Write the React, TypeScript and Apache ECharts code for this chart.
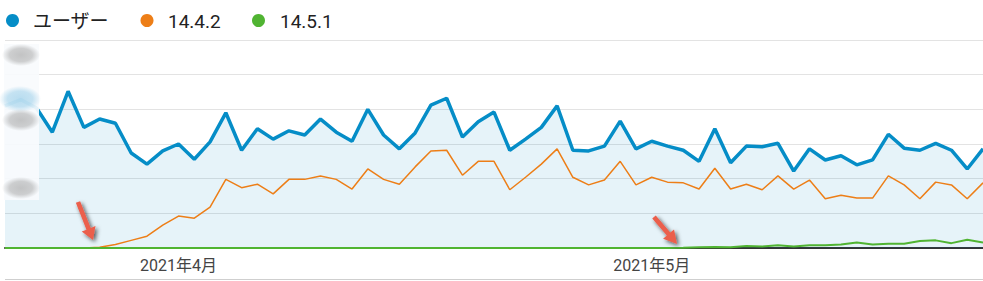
import React, { useEffect, useRef } from "react";
import * as echarts from "echarts";

const dates = [
  "2021-03-21", "2021-03-22", "2021-03-23", "2021-03-24", "2021-03-25", "2021-03-26", "2021-03-27",
  "2021-03-28", "2021-03-29", "2021-03-30", "2021-03-31",
  "2021-04-01", "2021-04-02", "2021-04-03", "2021-04-04", "2021-04-05", "2021-04-06", "2021-04-07",
  "2021-04-08", "2021-04-09", "2021-04-10", "2021-04-11", "2021-04-12", "2021-04-13", "2021-04-14",
  "2021-04-15", "2021-04-16", "2021-04-17", "2021-04-18", "2021-04-19", "2021-04-20", "2021-04-21",
  "2021-04-22", "2021-04-23", "2021-04-24", "2021-04-25", "2021-04-26", "2021-04-27", "2021-04-28",
  "2021-04-29", "2021-04-30",
  "2021-05-01", "2021-05-02", "2021-05-03", "2021-05-04", "2021-05-05", "2021-05-06", "2021-05-07",
  "2021-05-08", "2021-05-09", "2021-05-10", "2021-05-11", "2021-05-12", "2021-05-13", "2021-05-14",
  "2021-05-15", "2021-05-16", "2021-05-17", "2021-05-18", "2021-05-19", "2021-05-20", "2021-05-21",
  "2021-05-22",
];

const monthLabels: Record<string, string> = {
  "2021-04-01": "2021年4月",
  "2021-05-01": "2021年5月",
};

const seriesNames = ["ユーザー", "14.4.2", "14.5.1"];
const seriesColors = ["#058DC7", "#ED7E17", "#50B432"];

const users = [
  205, 214, 202, 167, 226, 174, 186, 180, 137, 121, 140,
  150, 128, 153, 195, 141, 172, 157, 169, 163, 186, 167, 154, 200, 163, 143, 166, 206, 216, 160,
  182, 196, 141, 157, 174, 205, 141, 140, 147, 183, 143,
  154, 147, 141, 125, 172, 123, 147, 146, 151, 111, 143, 127, 133, 120, 127, 164, 144, 141, 151,
  141, 114, 143,
];

const v1442 = [
  0, 0, 0, 0, 0, 0, 1, 5, 11, 17, 33,
  46, 43, 59, 99, 87, 92, 78, 99, 99, 104, 99, 85, 114, 99, 92, 117, 140, 141, 105,
  125, 125, 84, 102, 121, 143, 102, 91, 98, 125, 91,
  102, 95, 94, 85, 115, 85, 92, 84, 104, 85, 98, 71, 76, 72, 72, 104, 91, 71, 95,
  91, 71, 94,
];

const v1451 = [
  0, 0, 0, 0, 0, 0, 0, 0, 0, 0, 0,
  0, 0, 0, 0, 0, 0, 0, 0, 0, 0, 0, 0, 0, 0, 0, 0, 0, 0, 0,
  0, 0, 0, 0, 0, 0, 0, 0, 0, 0, 0,
  0, 0, 0.3, 1, 1.4, 1, 3, 2, 4, 2, 4, 4, 5, 8, 5, 6, 6, 10, 11,
  7, 12, 8,
];

const FONT = "Roboto, 'Noto Sans CJK JP', sans-serif";

function arrowPoints(tail: number[], tip: number[], shaftHalf: number, headLen: number, headHalf: number) {
  const dx = tip[0] - tail[0];
  const dy = tip[1] - tail[1];
  const len = Math.sqrt(dx * dx + dy * dy);
  const ux = dx / len, uy = dy / len;
  const nx = -uy, ny = ux;
  const bx = tip[0] - ux * headLen, by = tip[1] - uy * headLen;
  return [
    [tail[0] + nx * shaftHalf, tail[1] + ny * shaftHalf],
    [bx + nx * shaftHalf, by + ny * shaftHalf],
    [bx + nx * headHalf, by + ny * headHalf],
    [tip[0], tip[1]],
    [bx - nx * headHalf, by - ny * headHalf],
    [bx - nx * shaftHalf, by - ny * shaftHalf],
    [tail[0] - nx * shaftHalf, tail[1] - ny * shaftHalf],
  ];
}

function blurSpot(cx: number, cy: number, w: number, h: number, color: string, alpha: number) {
  return {
    type: "rect",
    shape: { x: cx - w / 2, y: cy - h / 2, width: w, height: h },
    style: {
      fill: new echarts.graphic.RadialGradient(0.5, 0.5, 0.5, [
        { offset: 0, color: `rgba(${color},${alpha})` },
        { offset: 0.6, color: `rgba(${color},${alpha * 0.8})` },
        { offset: 1, color: `rgba(${color},0)` },
      ]),
    },
    z: 101,
  };
}

export default function App() {
  const ref = useRef<HTMLDivElement>(null);

  useEffect(() => {
    if (!ref.current) return;
    const chart = echarts.init(ref.current, null, { renderer: "svg" });

    const legendX = [12.5, 147, 258.5];
    const legendTextX = [33, 168, 280];
    const legendGraphics: any[] = [];
    seriesNames.forEach((name, i) => {
      legendGraphics.push({
        type: "circle",
        shape: { cx: legendX[i], cy: 20.5, r: 6.5 },
        style: { fill: seriesColors[i] },
        z: 100,
      });
      legendGraphics.push({
        type: "text",
        x: legendTextX[i],
        y: 21.5,
        style: {
          text: name,
          fill: "#222",
          font: `19px ${FONT}`,
          verticalAlign: "middle",
        },
        z: 100,
      });
    });

    const arrowStyle = {
      fill: "#EB5E4C",
      shadowColor: "rgba(0,0,0,0.65)",
      shadowBlur: 4,
      shadowOffsetX: 2,
      shadowOffsetY: 2,
    };

    const option: any = {
      animation: false,
      grid: { left: 5, right: 0, top: 40, bottom: 33, containLabel: false },
      xAxis: {
        type: "category",
        data: dates,
        boundaryGap: false,
        axisLine: { show: true, lineStyle: { color: "#333", width: 2 } },
        axisTick: { show: false },
        splitLine: { show: false },
        axisLabel: {
          interval: (_idx: number, value: string) => value in monthLabels,
          formatter: (value: string) => monthLabels[value] || "",
          color: "#444",
          fontSize: 16,
          fontFamily: FONT,
          margin: 9,
        },
      },
      yAxis: {
        type: "value",
        min: 0,
        max: 300,
        interval: 50,
        axisLine: { show: false },
        axisTick: { show: false },
        axisLabel: { show: false },
        splitLine: { show: true, lineStyle: { color: "#e3e3e3", width: 1 } },
      },
      series: [
        {
          name: seriesNames[0],
          type: "line",
          data: users,
          showSymbol: false,
          symbol: "none",
          lineStyle: { color: seriesColors[0], width: 3.5 },
          areaStyle: { color: seriesColors[0], opacity: 0.1 },
          z: 2,
        },
        {
          name: seriesNames[1],
          type: "line",
          data: v1442,
          showSymbol: false,
          symbol: "none",
          lineStyle: { color: seriesColors[1], width: 1.5 },
          z: 3,
        },
        {
          name: seriesNames[2],
          type: "line",
          data: v1451,
          showSymbol: false,
          symbol: "none",
          lineStyle: { color: seriesColors[2], width: 2 },
          z: 4,
        },
      ],
      graphic: [
        ...legendGraphics,
        {
          type: "line",
          shape: { x1: 5, y1: 279.5, x2: 983, y2: 279.5 },
          style: { stroke: "#cfcfcf", lineWidth: 1 },
          z: 100,
        },
        {
          type: "rect",
          shape: { x: 4, y: 44, width: 35, height: 156 },
          style: { fill: "rgba(248,251,253,0.92)" },
          z: 100,
        },
        blurSpot(20, 99, 42, 26, "130,195,228", 0.55),
        blurSpot(21, 55, 38, 22, "165,165,165", 0.65),
        blurSpot(21, 120, 38, 22, "165,165,165", 0.65),
        blurSpot(21, 188, 38, 22, "165,165,165", 0.65),
        {
          type: "polygon",
          shape: { points: arrowPoints([78, 202], [93, 240], 2.3, 12, 7.4) },
          style: arrowStyle,
          z: 102,
        },
        {
          type: "polygon",
          shape: { points: arrowPoints([654, 217], [677, 244], 2.3, 13, 7.2) },
          style: arrowStyle,
          z: 102,
        },
      ],
    };

    chart.setOption(option);
    return () => chart.dispose();
  }, []);

  return (
    <div
      ref={ref}
      style={{ position: "absolute", left: 0, top: 0, width: 983, height: 281, background: "#fff" }}
    />
  );
}
